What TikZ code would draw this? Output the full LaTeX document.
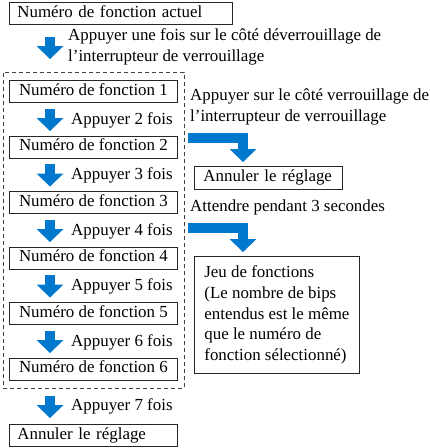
\documentclass[tikz,border=0pt]{standalone}
\usepackage{fontspec}
\setmainfont{Liberation Serif}
\usetikzlibrary{calc, arrows.meta}
\definecolor{pushblue}{RGB}{0,120,205}

\begin{document}
\begin{tikzpicture}[x=1pt, y=-1pt, font=\fontsize{16.9}{20.6}\selectfont,
  frame/.style={draw=black!85, line width=0.8pt, anchor=north west, inner ysep=0pt, align=left},
  box/.style={frame, inner xsep=8pt, text height=12pt, text depth=4pt, minimum height=22pt},
  group/.style={draw=black!75, line width=0.8pt, dash pattern=on 4pt off 3pt, anchor=north west, inner sep=0pt},
  step label/.style={anchor=west, inner sep=0pt, align=left},
  push/.style={pushblue, line width=10pt, -{Triangle[width=27pt, length=13pt, line width=0pt]}}]
  \useasboundingbox (0,0) rectangle (430,448);
  \node (actuel) at (9,2) [box, text width=207pt] {Numéro de fonction actuel};
  \node (unlock) at (68,47) [step label] {Appuyer une fois sur le côté déverrouillage de\\l'interrupteur de verrouillage};
  \node (grp) at (3,72) [group, minimum width=181pt, minimum height=316pt] {};
  \node (f1) at (9,80) [box, minimum width=168pt] {Numéro de fonction 1};
  \node (f2) at (9,135.5) [box, minimum width=168pt] {Numéro de fonction 2};
  \node (f3) at (9,191) [box, minimum width=168pt] {Numéro de fonction 3};
  \node (f4) at (9,246.5) [box, minimum width=168pt] {Numéro de fonction 4};
  \node (f5) at (9,302) [box, minimum width=168pt] {Numéro de fonction 5};
  \node (f6) at (9,357.5) [box, minimum width=168pt] {Numéro de fonction 6};
  \node (p2) at (71,120) [step label] {Appuyer 2 fois};
  \node (p3) at (71,175.5) [step label] {Appuyer 3 fois};
  \node (p4) at (71,231) [step label] {Appuyer 4 fois};
  \node (p5) at (71,286.5) [step label] {Appuyer 5 fois};
  \node (p6) at (71,342) [step label] {Appuyer 6 fois};
  \node (p7) at (71,406) [step label] {Appuyer 7 fois};
  \node (cancel) at (9,424) [box, text width=152pt] {Annuler le réglage};
  \node (lock) at (190,107) [step label] {Appuyer sur le côté verrouillage de\\l'interrupteur de verrouillage};
  \node (cancelr) at (194,166) [box, inner xsep=9pt, text width=130pt, minimum height=23pt] {Annuler le réglage};
  \node (wait) at (190,207) [step label] {Attendre pendant 3 secondes};
  \node (jeu) at (194,256) [frame, inner xsep=8pt, minimum width=165pt, minimum height=117pt] {Jeu de fonctions\\(Le nombre de bips\\entendus est le même\\que le numéro de\\fonction sélectionné)};
  \draw [push] ($(actuel.south west)+(41,12)$) -- ($(grp.north west)+(47,-13)$);
  \draw [push] ($(f1.south west)+(41,6)$) -- ($(f2.north west)+(41,-4.5)$);
  \draw [push] ($(f2.south west)+(41,6)$) -- ($(f3.north west)+(41,-4.5)$);
  \draw [push] ($(f3.south west)+(41,6)$) -- ($(f4.north west)+(41,-4.5)$);
  \draw [push] ($(f4.south west)+(41,6)$) -- ($(f5.north west)+(41,-4.5)$);
  \draw [push] ($(f5.south west)+(41,6)$) -- ($(f6.north west)+(41,-4.5)$);
  \draw [push] ($(grp.south west)+(47,7)$) -- ($(cancel.north west)+(41,-6)$);
  \draw [push] ($(cancelr.north west)+(-6,-28)$) -| ($(cancelr.north west)+(49,-4)$);
  \draw [push] ($(jeu.north west)+(-6,-28.5)$) -| ($(jeu.north west)+(49,-4)$);
\end{tikzpicture}
\end{document}
